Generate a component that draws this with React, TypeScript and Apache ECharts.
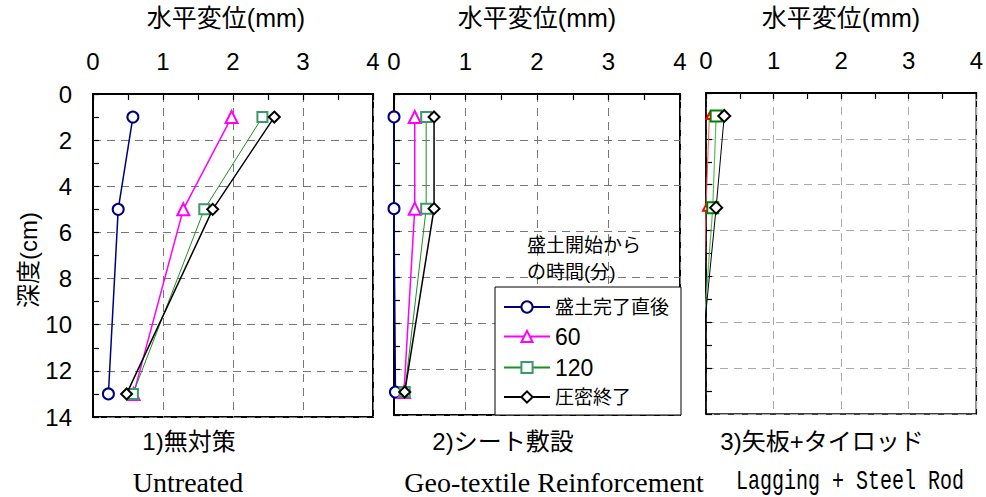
import React, { useEffect, useRef } from 'react';
import * as echarts from 'echarts';

// ---- data ----
const seriesNames = ['盛土完了直後', '60', '120', '圧密終了'];
const xTickLabels = ['0', '1', '2', '3', '4'];
const panelTitles = ['1)無対策', '2)シート敷設', '3)矢板+タイロッド'];
const panelSubtitles = ['Untreated', 'Geo-textile Reinforcement', 'Lagging + Steel Rod'];

const depthsP1 = [1, 5, 13];
const depthsP2 = [1, 5, 13];
const depthsP3 = [1, 5, 11];

// panel 1: untreated (mm)
const p1After = [0.57, 0.36, 0.22];
const p1Min60 = [1.98, 1.29, 0.58];
const p1Min120 = [2.42, 1.59, 0.57];
const p1End = [2.59, 1.71, 0.48];

// panel 2: geo-textile
const p2After = [0.0, 0.0, 0.02];
const p2Min60 = [0.29, 0.29, 0.14];
const p2Min120 = [0.45, 0.45, 0.15];
const p2End = [0.56, 0.56, 0.15];

// panel 3: lagging + steel rod
const p3After = [-0.05, -0.05, -0.05];
const p3Min60 = [0.05, 0.0, -0.05];
const p3Min120 = [0.15, 0.1, -0.05];
const p3End = [0.27, 0.15, -0.05];

const LATIN = "'Liberation Sans', 'Noto Sans CJK JP', sans-serif";

export default function App() {
  const ref = useRef<HTMLDivElement>(null);

  useEffect(() => {
    if (!ref.current) return;
    const chart = echarts.init(ref.current, null, { renderer: 'svg' });

    const grids = [
      { left: 93, top: 94, width: 280, height: 323 },
      { left: 394, top: 94, width: 286, height: 321 },
      { left: 706, top: 93, width: 271, height: 321 },
    ];
    const gridColors = ['#777', '#777', '#aaa'];

    const xAxes = grids.map((_, i) => ({
      type: 'value',
      gridIndex: i,
      position: 'top',
      min: 0,
      max: 4,
      interval: 1,
      axisLine: { show: true, onZero: false, lineStyle: { color: '#000', width: 2 } },
      axisTick: { show: true, inside: true, length: 6, lineStyle: { color: '#000', width: 1.2 } },
      minorTick: { show: true, splitNumber: 2, length: 6, lineStyle: { color: '#000', width: 1.2 } },
      axisLabel: {
        show: true,
        margin: 21,
        fontSize: 24,
        fontFamily: LATIN,
        color: '#000',
        formatter: (v: number) => xTickLabels[Math.round(v)] ?? '',
      },
      splitLine: { show: true, lineStyle: { color: gridColors[i], type: [8, 6], width: 1 } },
    }));

    const yAxes = grids.map((_, i) => ({
      type: 'value',
      gridIndex: i,
      inverse: true,
      min: 0,
      max: 14,
      interval: 2,
      axisLine: { show: true, onZero: false, lineStyle: { color: '#000', width: i === 2 ? 1.5 : 2 } },
      axisTick: { show: true, inside: true, length: 6, lineStyle: { color: '#000', width: 1.2 } },
      minorTick: { show: true, splitNumber: 2, length: 6, lineStyle: { color: '#000', width: 1.2 } },
      axisLabel: { show: i === 0, margin: 21, fontSize: 24, fontFamily: LATIN, color: '#000' },
      splitLine: { show: true, lineStyle: { color: gridColors[i], type: [8, 6], width: 1 } },
    }));

    const mk = (
      name: string,
      idx: number,
      xs: number[],
      depths: number[],
      color: string,
      symbolColor: string,
      symbol: string,
      symbolSize: number,
      lineWidth: number,
      borderWidth: number,
      z: number,
      hideLast = false,
    ) => ({
      type: 'line',
      name,
      xAxisIndex: idx,
      yAxisIndex: idx,
      data: xs.map((x, k) =>
        hideLast && k === xs.length - 1 ? { value: [x, depths[k]], symbol: 'none' } : [x, depths[k]],
      ),
      symbol,
      symbolSize,
      showSymbol: symbol !== 'none',
      clip: false,
      z,
      lineStyle: { color, width: lineWidth },
      itemStyle: { color: symbolColor, borderColor: symbolColor, borderWidth },
      emphasis: { disabled: true },
    });

    const series = [
      mk(seriesNames[0], 0, p1After, depthsP1, '#00007f', '#00007f', 'emptyCircle', 11, 1.5, 1.5, 5),
      mk(seriesNames[1], 0, p1Min60, depthsP1, '#ff00ff', '#ff00ff', 'emptyTriangle', 12, 1.5, 1.5, 5),
      mk(seriesNames[2], 0, p1Min120, depthsP1, '#1f8f1f', '#3a9a6a', 'emptyRect', 10, 1, 1.5, 5),
      mk(seriesNames[3], 0, p1End, depthsP1, '#000000', '#000000', 'emptyDiamond', 11, 1.5, 1.5, 6),

      mk(seriesNames[0], 1, p2After, depthsP2, '#00007f', '#00007f', 'emptyCircle', 11, 1.5, 1.5, 5),
      mk(seriesNames[1], 1, p2Min60, depthsP2, '#ff00ff', '#ff00ff', 'emptyTriangle', 12, 1.5, 1.5, 5),
      mk(seriesNames[2], 1, p2Min120, depthsP2, '#1f8f1f', '#3a9a6a', 'emptyRect', 10, 1, 1.5, 5),
      mk(seriesNames[3], 1, p2End, depthsP2, '#000000', '#000000', 'emptyDiamond', 11, 1.5, 1.5, 6),

      mk(seriesNames[0], 2, p3After, depthsP3, '#6a6ac0', '#6a6ac0', 'none', 0, 2, 1.5, 7, true),
      mk(seriesNames[1], 2, p3Min60, depthsP3, '#ff5050', '#ff0000', 'emptyTriangle', 6, 1, 1, 5, true),
      mk(seriesNames[2], 2, p3Min120, depthsP3, '#5fb85f', '#008000', 'emptyRect', 11, 1.2, 2, 5, true),
      mk(seriesNames[3], 2, p3End, depthsP3, '#000000', '#000000', 'emptyDiamond', 12, 1, 1.5, 6, true),
    ];

    const text = (t: string, x: number, y: number, size: number, family: string, extra: any = {}) => ({
      type: 'text',
      x,
      y,
      z: 100,
      ...extra,
      style: { text: t, fontSize: size, fontFamily: family, fill: '#000', align: 'center', verticalAlign: 'middle' },
    });

    const titleCenters = [226, 537, 841];
    const bottomCenters = [189, 503, 822];
    const subCenters = [188, 554, 850];
    const subFamilies = ["'Liberation Serif', serif", "'Liberation Serif', serif", "'Liberation Mono', monospace"];
    const subSizes = [28, 28, 20];
    const subScaleY = [1, 1, 1.35];

    const graphic: any[] = [
      ...titleCenters.map((cx) => text('水平変位(mm)', cx, 18, 25, LATIN)),
      text('深度(cm)', 28, 260, 24, LATIN, { rotation: Math.PI / 2 }),
      ...panelTitles.map((t, i) => text(t, bottomCenters[i], 441, 24, LATIN)),
      ...panelSubtitles.map((t, i) =>
        text(t, subCenters[i], 482, subSizes[i], subFamilies[i], { scaleY: subScaleY[i] }),
      ),
      {
        type: 'text',
        x: 527,
        y: 259,
        z: 100,
        style: {
          text: '盛土開始から\nの時間(分)',
          fontSize: 19,
          lineHeight: 27,
          fontFamily: LATIN,
          fill: '#000',
          align: 'left',
          verticalAlign: 'middle',
        },
      },
    ];

    chart.setOption({
      animation: false,
      backgroundColor: '#fff',
      grid: grids.map((g, i) => ({
        ...g,
        show: true,
        borderColor: '#000',
        borderWidth: i === 2 ? 1.5 : 2,
        backgroundColor: 'transparent',
      })),
      xAxis: xAxes,
      yAxis: yAxes,
      legend: {
        show: true,
        data: seriesNames,
        orient: 'vertical',
        left: 495,
        top: 287,
        itemWidth: 46,
        itemHeight: 14,
        itemGap: 8,
        padding: [10, 12, 8, 8],
        borderColor: '#000',
        borderWidth: 1,
        backgroundColor: '#fff',
        selectedMode: false,
        formatter: (n: string) => (/^\d+$/.test(n) ? `{n|${n}}` : `{j|${n}}`),
        textStyle: {
          fontSize: 19,
          fontFamily: LATIN,
          color: '#000',
          lineHeight: 20,
          rich: {
            n: { fontSize: 23, fontFamily: LATIN, lineHeight: 20 },
            j: { fontSize: 19, fontFamily: LATIN, lineHeight: 20 },
          },
        },
        z: 50,
      },
      series,
      graphic,
    });

    return () => chart.dispose();
  }, []);

  return <div ref={ref} style={{ position: 'absolute', left: 0, top: 0, width: 986, height: 497 }} />;
}
